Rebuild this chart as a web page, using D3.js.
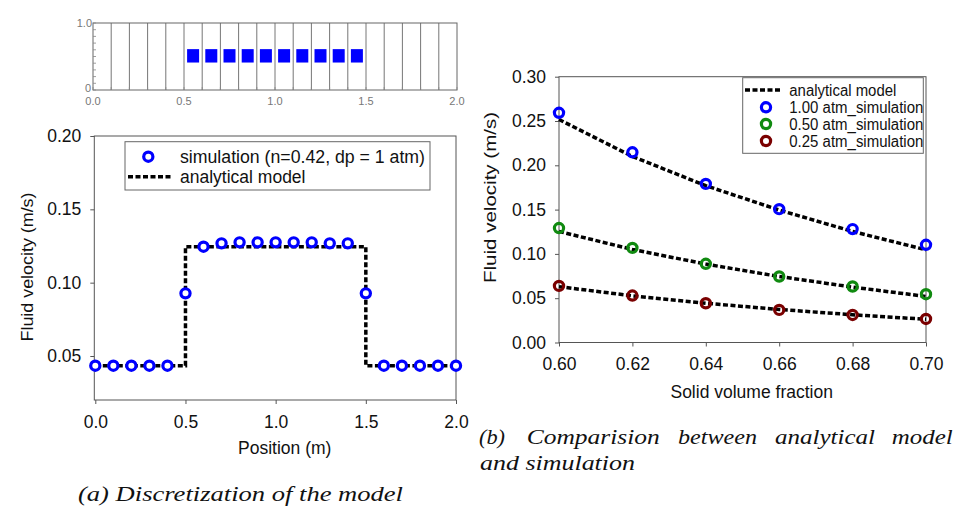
<!DOCTYPE html>
<html><head><meta charset="utf-8">
<script src="https://cdn.jsdelivr.net/npm/d3@7"></script>
<style>
html,body{margin:0;padding:0;background:#fff;}
svg{display:block;font-family:"Liberation Sans",Arial,sans-serif;}
.cap{font-family:"Liberation Serif","Times New Roman",serif;font-style:italic;}
</style></head>
<body>
<svg id="c" width="967" height="514"></svg>
<script>
// ---- data ----
const gridCells = [0,0.1,0.2,0.3,0.4,0.5,0.6,0.7,0.8,0.9,1.0,1.1,1.2,1.3,1.4,1.5,1.6,1.7,1.8,1.9,2.0];
const blockCenters = [0.55,0.65,0.75,0.85,0.95,1.05,1.15,1.25,1.35,1.45];
const blockLevel = 0.51;

const posX = [0,0.1,0.2,0.3,0.4,0.5,0.6,0.7,0.8,0.9,1.0,1.1,1.2,1.3,1.4,1.5,1.6,1.7,1.8,1.9,2.0];
const simVel = [0.0434,0.0434,0.0434,0.0434,0.0434,0.0927,0.1245,0.1268,0.1275,0.1275,0.1275,0.1275,0.1275,0.1268,0.1268,0.0927,0.0434,0.0434,0.0434,0.0434,0.0434];
const anaPosX = [0,0.5,0.5,1.5,1.5,2.0];
const anaVel = [0.0434,0.0434,0.1245,0.1245,0.0434,0.0434];
const leftXTicks = [0,0.5,1.0,1.5,2.0];
const leftYTicks = [0.05,0.10,0.15,0.20];

const fraction = [0.60,0.62,0.64,0.66,0.68,0.70];
const sim100 = [0.2593,0.2147,0.1790,0.1505,0.1280,0.1103];
const sim050 = [0.1292,0.1068,0.0888,0.0745,0.0632,0.0545];
const sim025 = [0.0639,0.0530,0.0443,0.0368,0.0311,0.0266];
const ana100 = [0.2517,0.2100,0.1770,0.1495,0.1253,0.1046];
const ana050 = [0.1253,0.1050,0.0885,0.0745,0.0625,0.0520];
const ana025 = [0.0630,0.0527,0.0443,0.0373,0.0313,0.0262];
const rightYTicks = [0,0.05,0.10,0.15,0.20,0.25,0.30];
const seriesNames = ["1.00 atm_simulation","0.50 atm_simulation","0.25 atm_simulation"];
const seriesColors = ["#0000ff","#108a10","#7a0000"];

const svg = d3.select("#c");
const axisCol = "#555";

// ---- top panel: discretization ----
const tx = d3.scaleLinear().domain([0,2]).range([93,457]);
const ty = d3.scaleLinear().domain([0,1]).range([90,23]);
const topG = svg.append("g");
topG.selectAll("line.cell").data(gridCells.slice(1,-1)).join("line")
  .attr("x1",d=>tx(d)).attr("x2",d=>tx(d)).attr("y1",ty(1)).attr("y2",ty(0))
  .attr("stroke","#666").attr("stroke-width",0.9);
topG.append("rect").attr("x",tx(0)).attr("y",ty(1)).attr("width",tx(2)-tx(0)).attr("height",ty(0)-ty(1))
  .attr("fill","none").attr("stroke","#666").attr("stroke-width",1);
topG.selectAll("rect.blk").data(blockCenters).join("rect")
  .attr("x",d=>tx(d)-6).attr("y",ty(blockLevel)-6.7).attr("width",12).attr("height",13.4)
  .attr("fill","#0000ff");
// minor ticks
const yMinor = d3.range(0,1.0001,0.1);
topG.selectAll("line.ym").data(yMinor).join("line")
  .attr("x1",tx(0)).attr("x2",tx(0)+3).attr("y1",d=>ty(d)).attr("y2",d=>ty(d)).attr("stroke","#888").attr("stroke-width",0.8);
topG.selectAll("line.xm").data(d3.range(0,2.0001,0.1)).join("line")
  .attr("x1",d=>tx(d)).attr("x2",d=>tx(d)).attr("y1",ty(0)).attr("y2",ty(0)-3).attr("stroke","#888").attr("stroke-width",0.8);
topG.selectAll("text.tx").data(leftXTicks).join("text")
  .attr("x",d=>tx(d)).attr("y",104.5).attr("text-anchor","middle").attr("font-size",11).attr("fill","#777")
  .text(d=>d.toFixed(1));
topG.append("text").attr("x",tx(0)-1).attr("y",ty(1)+4).attr("text-anchor","end").attr("font-size",11).attr("fill","#777").text("1.0");
topG.append("text").attr("x",tx(0)-2).attr("y",ty(0)+2).attr("text-anchor","end").attr("font-size",11).attr("fill","#777").text("0");

// ---- left chart ----
const lx = d3.scaleLinear().domain([0,2]).range([95.3,456]);
const ly = d3.scaleLinear().domain([0.02,0.20]).range([400,136]);
const L = svg.append("g");
L.append("rect").attr("x",94.3).attr("y",ly(0.20)).attr("width",456-94.3).attr("height",ly(0.02)-ly(0.20))
  .attr("fill","none").attr("stroke",axisCol).attr("stroke-width",1);
const lxa = L.append("g").attr("transform",`translate(0,${ly(0.02)})`)
  .call(d3.axisBottom(lx).tickValues(leftXTicks).tickFormat(d3.format(".1f")).tickSize(4).tickSizeOuter(0).tickPadding(12));
const lya = L.append("g").attr("transform",`translate(94.3,0)`)
  .call(d3.axisLeft(ly).tickValues(leftYTicks).tickFormat(d3.format(".2f")).tickSize(4).tickSizeOuter(0).tickPadding(9));
[lxa,lya].forEach(a=>{a.select(".domain").attr("stroke","none");
  a.selectAll(".tick line").attr("stroke",axisCol);
  a.selectAll("text").attr("font-size",17.5).attr("fill","#111").attr("font-family","Liberation Sans, Arial, sans-serif");});
L.append("text").attr("x",284.7).attr("y",454).attr("text-anchor","middle").attr("font-size",17.5).attr("fill","#111").text("Position (m)");
L.append("text").attr("transform","translate(33,267) rotate(-90)").attr("text-anchor","middle").attr("font-size",17).attr("fill","#111")
  .attr("textLength",149).attr("lengthAdjust","spacingAndGlyphs").text("Fluid velocity (m/s)");
const lineL = d3.line().x((d,i)=>lx(anaPosX[i])).y(d=>ly(d));
L.append("path").attr("d",lineL(anaVel)).attr("fill","none").attr("stroke","#000").attr("stroke-width",3.5).attr("stroke-dasharray","5,2.5");
L.selectAll("circle").data(simVel).join("circle")
  .attr("cx",(d,i)=>lx(posX[i])).attr("cy",d=>ly(d)).attr("r",4.6)
  .attr("fill","#fff").attr("stroke","#0000ff").attr("stroke-width",3.2);
// legend
const lg = L.append("g");
lg.append("rect").attr("x",125).attr("y",141.7).attr("width",305).attr("height",48.3).attr("fill","#fff").attr("stroke","#666").attr("stroke-width",1);
lg.append("circle").attr("cx",148.3).attr("cy",156.7).attr("r",4.6).attr("fill","#fff").attr("stroke","#0000ff").attr("stroke-width",3.2);
lg.append("text").attr("x",180).attr("y",162.5).attr("font-size",17.5).attr("fill","#111").attr("textLength",245).attr("lengthAdjust","spacingAndGlyphs").text("simulation (n=0.42, dp = 1 atm)");
lg.append("line").attr("x1",128).attr("x2",171).attr("y1",176.7).attr("y2",176.7).attr("stroke","#000").attr("stroke-width",3.5).attr("stroke-dasharray","5,2.5");
lg.append("text").attr("x",180).attr("y",182.5).attr("font-size",17.5).attr("fill","#111").text("analytical model");

// ---- right chart ----
const rx = d3.scaleLinear().domain([0.6,0.7]).range([559,926]);
const ry = d3.scaleLinear().domain([0,0.3]).range([342.5,76.7]);
const R = svg.append("g");
R.append("rect").attr("x",rx(0.6)).attr("y",ry(0.3)).attr("width",rx(0.7)-rx(0.6)).attr("height",ry(0)-ry(0.3))
  .attr("fill","none").attr("stroke",axisCol).attr("stroke-width",1);
const rxa = R.append("g").attr("transform",`translate(0,${ry(0)})`)
  .call(d3.axisBottom(rx).tickValues(fraction).tickFormat(d3.format(".2f")).tickSize(4).tickSizeOuter(0).tickPadding(11));
const rya = R.append("g").attr("transform",`translate(${rx(0.6)},0)`)
  .call(d3.axisLeft(ry).tickValues(rightYTicks).tickFormat(d3.format(".2f")).tickSize(4).tickSizeOuter(0).tickPadding(9));
[rxa,rya].forEach(a=>{a.select(".domain").attr("stroke","none");
  a.selectAll(".tick line").attr("stroke",axisCol);
  a.selectAll("text").attr("font-size",17.5).attr("fill","#111").attr("font-family","Liberation Sans, Arial, sans-serif");});
R.append("text").attr("x",751.7).attr("y",398).attr("text-anchor","middle").attr("font-size",17.5).attr("fill","#111").text("Solid volume fraction");
R.append("text").attr("transform","translate(496,197.5) rotate(-90)").attr("text-anchor","middle").attr("font-size",17).attr("fill","#111")
  .attr("textLength",171).attr("lengthAdjust","spacingAndGlyphs").text("Fluid velocity (m/s)");
const lineR = d3.line().x((d,i)=>rx(fraction[i])).y(d=>ry(d));
[ana100,ana050,ana025].forEach(s=>{
  R.append("path").attr("d",lineR(s)).attr("fill","none").attr("stroke","#000").attr("stroke-width",3.5).attr("stroke-dasharray","5,2.5");
});
[sim100,sim050,sim025].forEach((s,k)=>{
  R.append("g").selectAll("circle").data(s).join("circle")
    .attr("cx",(d,i)=>rx(fraction[i])).attr("cy",d=>ry(d)).attr("r",4.6)
    .attr("fill","none").attr("stroke",seriesColors[k]).attr("stroke-width",3.2);
});
const rg = R.append("g");
rg.append("rect").attr("x",742.7).attr("y",77.7).attr("width",180.6).attr("height",75.6).attr("fill","#fff").attr("stroke","#666").attr("stroke-width",1);
rg.append("line").attr("x1",745).attr("x2",782).attr("y1",90).attr("y2",90).attr("stroke","#000").attr("stroke-width",3.5).attr("stroke-dasharray","5,2.5");
rg.append("text").attr("x",789.3).attr("y",95.5).attr("font-size",16).attr("fill","#111").attr("textLength",107).attr("lengthAdjust","spacingAndGlyphs").text("analytical model");
const rowsY = [107.3,124,141];
seriesNames.forEach((n,k)=>{
  rg.append("circle").attr("cx",766).attr("cy",rowsY[k]).attr("r",4.6).attr("fill","none").attr("stroke",seriesColors[k]).attr("stroke-width",3.2);
  rg.append("text").attr("x",789.3).attr("y",rowsY[k]+5.5).attr("font-size",16).attr("fill","#111")
    .attr("textLength",134).attr("lengthAdjust","spacingAndGlyphs").text(n);
});

// ---- captions ----
svg.append("text").attr("class","cap").attr("x",78).attr("y",501).attr("font-size",22).attr("fill","#111")
  .attr("textLength",325).attr("lengthAdjust","spacingAndGlyphs").text("(a) Discretization of the model");
const capWords = [["(b)",479,26],["Comparision",526.7,133],["between",678,79],["analytical",775,100],["model",891.7,61]];
capWords.forEach(w=>{
  svg.append("text").attr("class","cap").attr("x",w[1]).attr("y",444).attr("font-size",21).attr("fill","#111")
    .attr("textLength",w[2]).attr("lengthAdjust","spacingAndGlyphs").text(w[0]);
});
svg.append("text").attr("class","cap").attr("x",480).attr("y",469.5).attr("font-size",21).attr("fill","#111")
  .attr("textLength",155).attr("lengthAdjust","spacingAndGlyphs").text("and simulation");
</script>
</body></html>
